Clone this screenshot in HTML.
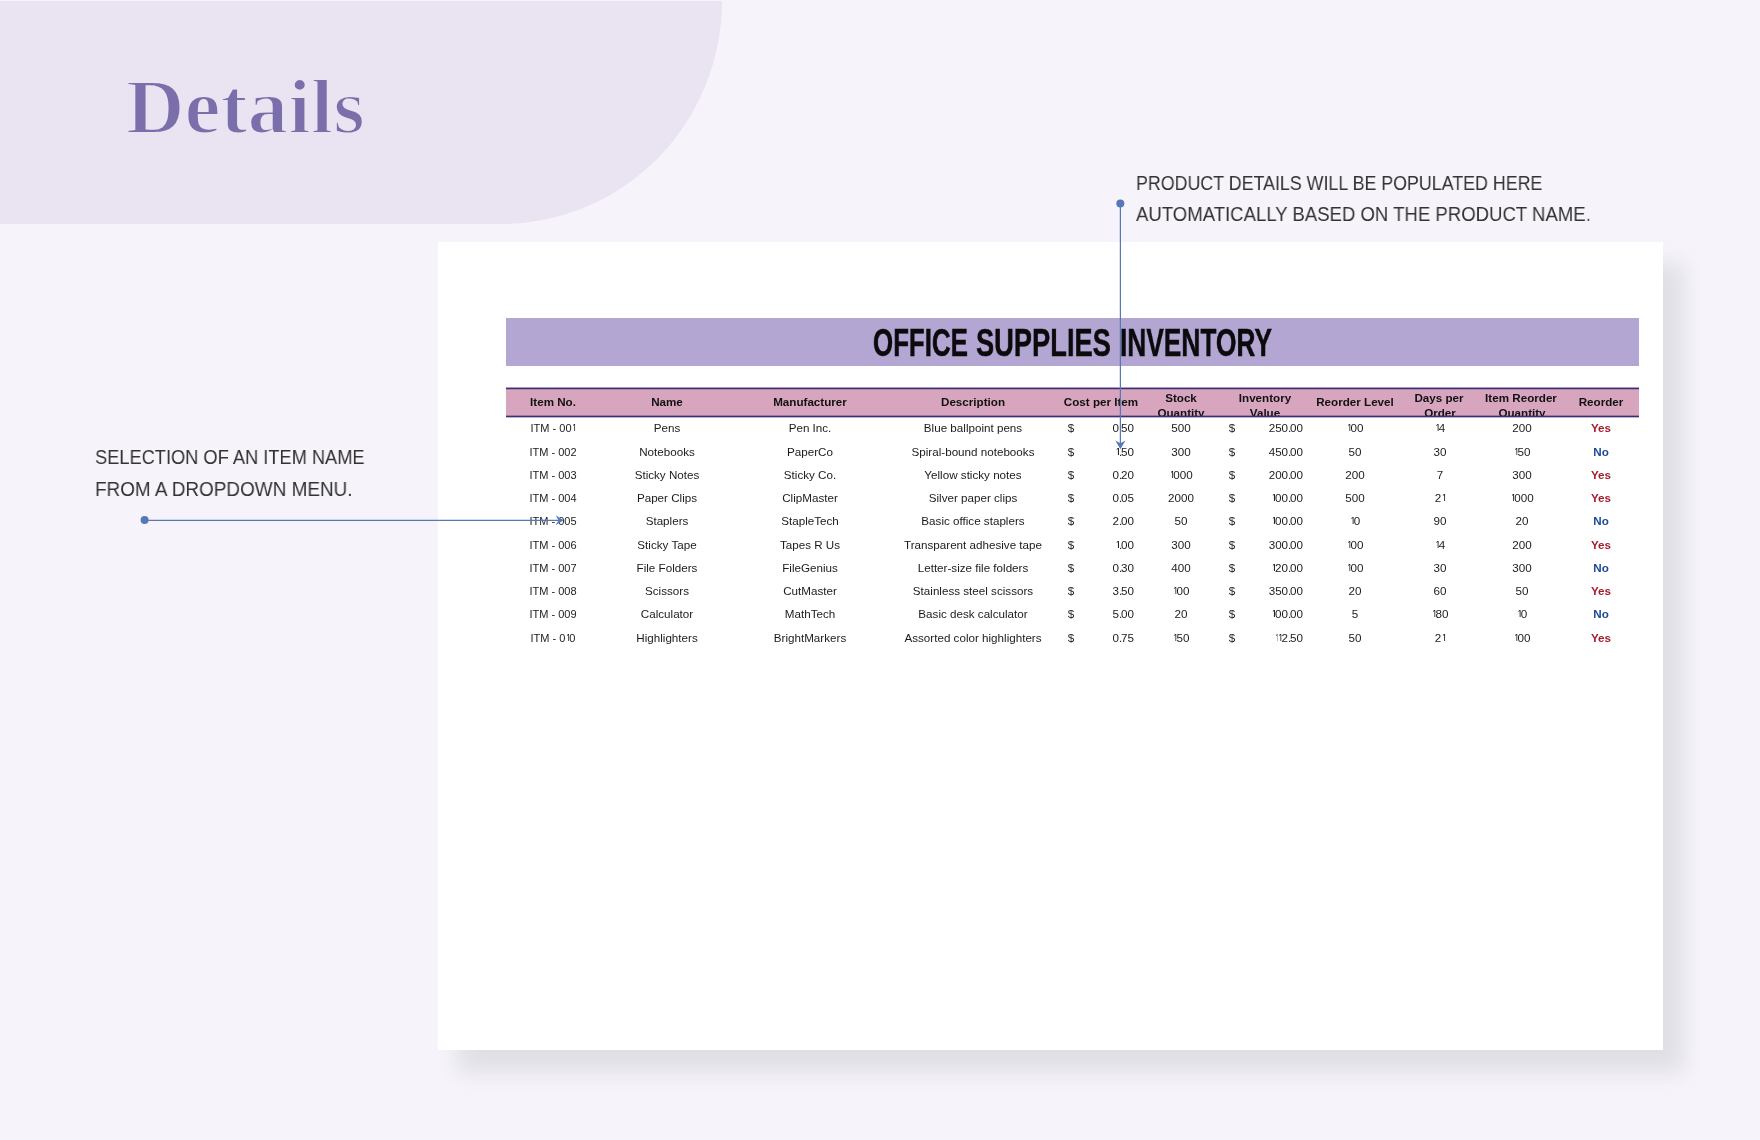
<!DOCTYPE html>
<html><head><meta charset="utf-8"><style>
html,body{margin:0;padding:0}
body{width:1760px;height:1140px;position:relative;overflow:hidden;background:#f6f4fa;font-family:"Liberation Sans",sans-serif}
.abs{position:absolute}
#blob{left:0;top:1px;width:722px;height:223px;background:#eae3f1;border-bottom-right-radius:222px 224px}
#title{left:126.3px;top:0;font-family:"Liberation Serif",serif;font-weight:bold;color:#7a6fab;white-space:nowrap}
.call{position:absolute;will-change:transform;font-size:21px;color:#333333;white-space:nowrap;transform-origin:0 0}
#card{left:438px;top:242px;width:1225px;height:808px;background:#fff;box-shadow:20px 22px 20px rgba(40,40,60,0.10)}
#band{left:506px;top:318px;width:1133px;height:48px;background:#b3a6d2}
#hdr{left:506px;top:388px;width:1133px;height:29px;background:#d8a5bf}
.inv{position:absolute;top:322.9px;font-size:39.5px;line-height:39.5px;font-weight:bold;color:#0b0b0d;white-space:nowrap;transform-origin:0 0;will-change:transform;-webkit-text-stroke:0.5px #0b0b0d}
.t{position:absolute;will-change:transform;height:0;line-height:0;text-align:center;white-space:nowrap;transform-origin:50% 0}
.t.r{text-align:right}
.dot{letter-spacing:-0.11em}
.one{letter-spacing:-0.21em;clip-path:inset(0 0 0.28em 0.14em)}
#hclip{position:absolute;left:0;top:0;width:1760px;height:416px;overflow:hidden}
svg{position:absolute;left:0;top:0}
</style></head><body>
<div id="blob" class="abs"></div>
<div id="title" class="abs" style="font-size:77.4px;line-height:77.4px;top:68.55px;transform-origin:0 0;transform:scaleX(1.048);-webkit-text-stroke:2px #eae3f1">Details</div>
<div class="call" style="left:1136px;top:166.6px;line-height:32px;transform:scaleX(0.8486)">PRODUCT DETAILS WILL BE POPULATED HERE</div>
<div class="call" style="left:1136px;top:198.3px;line-height:32px;transform:scaleX(0.8838)">AUTOMATICALLY BASED ON THE PRODUCT NAME.</div>
<div class="call" style="left:95px;top:440.9px;line-height:32px;transform:scaleX(0.8686)">SELECTION OF AN ITEM NAME</div>
<div class="call" style="left:95px;top:472.8px;line-height:32px;transform:scaleX(0.901)">FROM A DROPDOWN MENU.</div>
<div id="card" class="abs"></div>
<div id="band" class="abs"></div>
<div class="inv" style="left:873.4px;transform:scaleX(0.655)">OFFICE</div>
<div class="inv" style="left:975.8px;transform:scaleX(0.69)">SUPPLIES</div>
<div class="inv" style="left:1119.8px;transform:scaleX(0.6655)">INVENTORY</div>
<div id="hdr" class="abs"></div>
<div id="hclip">
<div class="t " style="left:403.00px;top:402.83px;width:300px;font-size:10.3px;font-weight:bold;color:#111;transform:scaleX(1.13)">Item No.</div>
<div class="t " style="left:517.00px;top:402.83px;width:300px;font-size:10.3px;font-weight:bold;color:#111;transform:scaleX(1.13)">Name</div>
<div class="t " style="left:660.00px;top:402.83px;width:300px;font-size:10.3px;font-weight:bold;color:#111;transform:scaleX(1.13)">Manufacturer</div>
<div class="t " style="left:823.00px;top:402.83px;width:300px;font-size:10.3px;font-weight:bold;color:#111;transform:scaleX(1.13)">Description</div>
<div class="t " style="left:950.50px;top:402.83px;width:300px;font-size:10.3px;font-weight:bold;color:#111;transform:scaleX(1.13)">Cost per Item</div>
<div class="t " style="left:1204.50px;top:402.83px;width:300px;font-size:10.3px;font-weight:bold;color:#111;transform:scaleX(1.13)">Reorder Level</div>
<div class="t " style="left:1451.00px;top:402.83px;width:300px;font-size:10.3px;font-weight:bold;color:#111;transform:scaleX(1.13)">Reorder</div>
<div class="t " style="left:1030.50px;top:399.43px;width:300px;font-size:10.3px;font-weight:bold;color:#111;transform:scaleX(1.13)">Stock</div>
<div class="t " style="left:1031.00px;top:414.43px;width:300px;font-size:10.3px;font-weight:bold;color:#111;transform:scaleX(1.13)">Quantity</div>
<div class="t " style="left:1114.50px;top:399.43px;width:300px;font-size:10.3px;font-weight:bold;color:#111;transform:scaleX(1.13)">Inventory</div>
<div class="t " style="left:1115.00px;top:414.43px;width:300px;font-size:10.3px;font-weight:bold;color:#111;transform:scaleX(1.13)">Value</div>
<div class="t " style="left:1289.00px;top:399.43px;width:300px;font-size:10.3px;font-weight:bold;color:#111;transform:scaleX(1.13)">Days per</div>
<div class="t " style="left:1289.50px;top:414.43px;width:300px;font-size:10.3px;font-weight:bold;color:#111;transform:scaleX(1.13)">Order</div>
<div class="t " style="left:1371.00px;top:399.43px;width:300px;font-size:10.3px;font-weight:bold;color:#111;transform:scaleX(1.13)">Item Reorder</div>
<div class="t " style="left:1371.50px;top:414.43px;width:300px;font-size:10.3px;font-weight:bold;color:#111;transform:scaleX(1.13)">Quantity</div>
</div>
<div class="t " style="left:402.50px;top:429.23px;width:300px;font-size:10.3px;font-weight:normal;color:#1b1b1b;transform:scaleX(1.07)">ITM - 00<span class="one">1</span></div>
<div class="t " style="left:517.00px;top:429.23px;width:300px;font-size:10.3px;font-weight:normal;color:#1b1b1b;transform:scaleX(1.13)">Pens</div>
<div class="t " style="left:660.00px;top:429.23px;width:300px;font-size:10.3px;font-weight:normal;color:#1b1b1b;transform:scaleX(1.13)">Pen Inc.</div>
<div class="t " style="left:823.00px;top:429.23px;width:300px;font-size:10.3px;font-weight:normal;color:#1b1b1b;transform:scaleX(1.13)">Blue ballpoint pens</div>
<div class="t " style="left:921.00px;top:429.23px;width:300px;font-size:10.3px;font-weight:normal;color:#1b1b1b;transform:scaleX(1.13)">$</div>
<div class="t r" style="left:934.20px;top:429.23px;width:200px;font-size:10.3px;color:#1b1b1b;transform-origin:100% 0;transform:scaleX(1.13)">0<span class="dot">.</span>50</div>
<div class="t " style="left:1031.00px;top:429.23px;width:300px;font-size:10.3px;font-weight:normal;color:#1b1b1b;transform:scaleX(1.13)">500</div>
<div class="t " style="left:1082.00px;top:429.23px;width:300px;font-size:10.3px;font-weight:normal;color:#1b1b1b;transform:scaleX(1.13)">$</div>
<div class="t r" style="left:1102.50px;top:429.23px;width:200px;font-size:10.3px;color:#1b1b1b;transform-origin:100% 0;transform:scaleX(1.13)">250<span class="dot">.</span>00</div>
<div class="t " style="left:1204.50px;top:429.23px;width:300px;font-size:10.3px;font-weight:normal;color:#1b1b1b;transform:scaleX(1.13)"><span class="one">1</span>00</div>
<div class="t " style="left:1289.50px;top:429.23px;width:300px;font-size:10.3px;font-weight:normal;color:#1b1b1b;transform:scaleX(1.13)"><span class="one">1</span>4</div>
<div class="t " style="left:1371.50px;top:429.23px;width:300px;font-size:10.3px;font-weight:normal;color:#1b1b1b;transform:scaleX(1.13)">200</div>
<div class="t " style="left:1451.00px;top:429.23px;width:300px;font-size:10.3px;font-weight:bold;color:#a51d2d;transform:scaleX(1.13)">Yes</div>
<div class="t " style="left:402.50px;top:452.50px;width:300px;font-size:10.3px;font-weight:normal;color:#1b1b1b;transform:scaleX(1.07)">ITM - 002</div>
<div class="t " style="left:517.00px;top:452.50px;width:300px;font-size:10.3px;font-weight:normal;color:#1b1b1b;transform:scaleX(1.13)">Notebooks</div>
<div class="t " style="left:660.00px;top:452.50px;width:300px;font-size:10.3px;font-weight:normal;color:#1b1b1b;transform:scaleX(1.13)">PaperCo</div>
<div class="t " style="left:823.00px;top:452.50px;width:300px;font-size:10.3px;font-weight:normal;color:#1b1b1b;transform:scaleX(1.13)">Spiral-bound notebooks</div>
<div class="t " style="left:921.00px;top:452.50px;width:300px;font-size:10.3px;font-weight:normal;color:#1b1b1b;transform:scaleX(1.13)">$</div>
<div class="t r" style="left:934.20px;top:452.50px;width:200px;font-size:10.3px;color:#1b1b1b;transform-origin:100% 0;transform:scaleX(1.13)"><span class="one">1</span><span class="dot">.</span>50</div>
<div class="t " style="left:1031.00px;top:452.50px;width:300px;font-size:10.3px;font-weight:normal;color:#1b1b1b;transform:scaleX(1.13)">300</div>
<div class="t " style="left:1082.00px;top:452.50px;width:300px;font-size:10.3px;font-weight:normal;color:#1b1b1b;transform:scaleX(1.13)">$</div>
<div class="t r" style="left:1102.50px;top:452.50px;width:200px;font-size:10.3px;color:#1b1b1b;transform-origin:100% 0;transform:scaleX(1.13)">450<span class="dot">.</span>00</div>
<div class="t " style="left:1204.50px;top:452.50px;width:300px;font-size:10.3px;font-weight:normal;color:#1b1b1b;transform:scaleX(1.13)">50</div>
<div class="t " style="left:1289.50px;top:452.50px;width:300px;font-size:10.3px;font-weight:normal;color:#1b1b1b;transform:scaleX(1.13)">30</div>
<div class="t " style="left:1371.50px;top:452.50px;width:300px;font-size:10.3px;font-weight:normal;color:#1b1b1b;transform:scaleX(1.13)"><span class="one">1</span>50</div>
<div class="t " style="left:1451.00px;top:452.50px;width:300px;font-size:10.3px;font-weight:bold;color:#1d4a93;transform:scaleX(1.13)">No</div>
<div class="t " style="left:402.50px;top:475.77px;width:300px;font-size:10.3px;font-weight:normal;color:#1b1b1b;transform:scaleX(1.07)">ITM - 003</div>
<div class="t " style="left:517.00px;top:475.77px;width:300px;font-size:10.3px;font-weight:normal;color:#1b1b1b;transform:scaleX(1.13)">Sticky Notes</div>
<div class="t " style="left:660.00px;top:475.77px;width:300px;font-size:10.3px;font-weight:normal;color:#1b1b1b;transform:scaleX(1.13)">Sticky Co.</div>
<div class="t " style="left:823.00px;top:475.77px;width:300px;font-size:10.3px;font-weight:normal;color:#1b1b1b;transform:scaleX(1.13)">Yellow sticky notes</div>
<div class="t " style="left:921.00px;top:475.77px;width:300px;font-size:10.3px;font-weight:normal;color:#1b1b1b;transform:scaleX(1.13)">$</div>
<div class="t r" style="left:934.20px;top:475.77px;width:200px;font-size:10.3px;color:#1b1b1b;transform-origin:100% 0;transform:scaleX(1.13)">0<span class="dot">.</span>20</div>
<div class="t " style="left:1031.00px;top:475.77px;width:300px;font-size:10.3px;font-weight:normal;color:#1b1b1b;transform:scaleX(1.13)"><span class="one">1</span>000</div>
<div class="t " style="left:1082.00px;top:475.77px;width:300px;font-size:10.3px;font-weight:normal;color:#1b1b1b;transform:scaleX(1.13)">$</div>
<div class="t r" style="left:1102.50px;top:475.77px;width:200px;font-size:10.3px;color:#1b1b1b;transform-origin:100% 0;transform:scaleX(1.13)">200<span class="dot">.</span>00</div>
<div class="t " style="left:1204.50px;top:475.77px;width:300px;font-size:10.3px;font-weight:normal;color:#1b1b1b;transform:scaleX(1.13)">200</div>
<div class="t " style="left:1289.50px;top:475.77px;width:300px;font-size:10.3px;font-weight:normal;color:#1b1b1b;transform:scaleX(1.13)">7</div>
<div class="t " style="left:1371.50px;top:475.77px;width:300px;font-size:10.3px;font-weight:normal;color:#1b1b1b;transform:scaleX(1.13)">300</div>
<div class="t " style="left:1451.00px;top:475.77px;width:300px;font-size:10.3px;font-weight:bold;color:#a51d2d;transform:scaleX(1.13)">Yes</div>
<div class="t " style="left:402.50px;top:499.04px;width:300px;font-size:10.3px;font-weight:normal;color:#1b1b1b;transform:scaleX(1.07)">ITM - 004</div>
<div class="t " style="left:517.00px;top:499.04px;width:300px;font-size:10.3px;font-weight:normal;color:#1b1b1b;transform:scaleX(1.13)">Paper Clips</div>
<div class="t " style="left:660.00px;top:499.04px;width:300px;font-size:10.3px;font-weight:normal;color:#1b1b1b;transform:scaleX(1.13)">ClipMaster</div>
<div class="t " style="left:823.00px;top:499.04px;width:300px;font-size:10.3px;font-weight:normal;color:#1b1b1b;transform:scaleX(1.13)">Silver paper clips</div>
<div class="t " style="left:921.00px;top:499.04px;width:300px;font-size:10.3px;font-weight:normal;color:#1b1b1b;transform:scaleX(1.13)">$</div>
<div class="t r" style="left:934.20px;top:499.04px;width:200px;font-size:10.3px;color:#1b1b1b;transform-origin:100% 0;transform:scaleX(1.13)">0<span class="dot">.</span>05</div>
<div class="t " style="left:1031.00px;top:499.04px;width:300px;font-size:10.3px;font-weight:normal;color:#1b1b1b;transform:scaleX(1.13)">2000</div>
<div class="t " style="left:1082.00px;top:499.04px;width:300px;font-size:10.3px;font-weight:normal;color:#1b1b1b;transform:scaleX(1.13)">$</div>
<div class="t r" style="left:1102.50px;top:499.04px;width:200px;font-size:10.3px;color:#1b1b1b;transform-origin:100% 0;transform:scaleX(1.13)"><span class="one">1</span>00<span class="dot">.</span>00</div>
<div class="t " style="left:1204.50px;top:499.04px;width:300px;font-size:10.3px;font-weight:normal;color:#1b1b1b;transform:scaleX(1.13)">500</div>
<div class="t " style="left:1289.50px;top:499.04px;width:300px;font-size:10.3px;font-weight:normal;color:#1b1b1b;transform:scaleX(1.13)">2<span class="one">1</span></div>
<div class="t " style="left:1371.50px;top:499.04px;width:300px;font-size:10.3px;font-weight:normal;color:#1b1b1b;transform:scaleX(1.13)"><span class="one">1</span>000</div>
<div class="t " style="left:1451.00px;top:499.04px;width:300px;font-size:10.3px;font-weight:bold;color:#a51d2d;transform:scaleX(1.13)">Yes</div>
<div class="t " style="left:402.50px;top:522.31px;width:300px;font-size:10.3px;font-weight:normal;color:#1b1b1b;transform:scaleX(1.07)">ITM - 005</div>
<div class="t " style="left:517.00px;top:522.31px;width:300px;font-size:10.3px;font-weight:normal;color:#1b1b1b;transform:scaleX(1.13)">Staplers</div>
<div class="t " style="left:660.00px;top:522.31px;width:300px;font-size:10.3px;font-weight:normal;color:#1b1b1b;transform:scaleX(1.13)">StapleTech</div>
<div class="t " style="left:823.00px;top:522.31px;width:300px;font-size:10.3px;font-weight:normal;color:#1b1b1b;transform:scaleX(1.13)">Basic office staplers</div>
<div class="t " style="left:921.00px;top:522.31px;width:300px;font-size:10.3px;font-weight:normal;color:#1b1b1b;transform:scaleX(1.13)">$</div>
<div class="t r" style="left:934.20px;top:522.31px;width:200px;font-size:10.3px;color:#1b1b1b;transform-origin:100% 0;transform:scaleX(1.13)">2<span class="dot">.</span>00</div>
<div class="t " style="left:1031.00px;top:522.31px;width:300px;font-size:10.3px;font-weight:normal;color:#1b1b1b;transform:scaleX(1.13)">50</div>
<div class="t " style="left:1082.00px;top:522.31px;width:300px;font-size:10.3px;font-weight:normal;color:#1b1b1b;transform:scaleX(1.13)">$</div>
<div class="t r" style="left:1102.50px;top:522.31px;width:200px;font-size:10.3px;color:#1b1b1b;transform-origin:100% 0;transform:scaleX(1.13)"><span class="one">1</span>00<span class="dot">.</span>00</div>
<div class="t " style="left:1204.50px;top:522.31px;width:300px;font-size:10.3px;font-weight:normal;color:#1b1b1b;transform:scaleX(1.13)"><span class="one">1</span>0</div>
<div class="t " style="left:1289.50px;top:522.31px;width:300px;font-size:10.3px;font-weight:normal;color:#1b1b1b;transform:scaleX(1.13)">90</div>
<div class="t " style="left:1371.50px;top:522.31px;width:300px;font-size:10.3px;font-weight:normal;color:#1b1b1b;transform:scaleX(1.13)">20</div>
<div class="t " style="left:1451.00px;top:522.31px;width:300px;font-size:10.3px;font-weight:bold;color:#1d4a93;transform:scaleX(1.13)">No</div>
<div class="t " style="left:402.50px;top:545.58px;width:300px;font-size:10.3px;font-weight:normal;color:#1b1b1b;transform:scaleX(1.07)">ITM - 006</div>
<div class="t " style="left:517.00px;top:545.58px;width:300px;font-size:10.3px;font-weight:normal;color:#1b1b1b;transform:scaleX(1.13)">Sticky Tape</div>
<div class="t " style="left:660.00px;top:545.58px;width:300px;font-size:10.3px;font-weight:normal;color:#1b1b1b;transform:scaleX(1.13)">Tapes R Us</div>
<div class="t " style="left:823.00px;top:545.58px;width:300px;font-size:10.3px;font-weight:normal;color:#1b1b1b;transform:scaleX(1.13)">Transparent adhesive tape</div>
<div class="t " style="left:921.00px;top:545.58px;width:300px;font-size:10.3px;font-weight:normal;color:#1b1b1b;transform:scaleX(1.13)">$</div>
<div class="t r" style="left:934.20px;top:545.58px;width:200px;font-size:10.3px;color:#1b1b1b;transform-origin:100% 0;transform:scaleX(1.13)"><span class="one">1</span><span class="dot">.</span>00</div>
<div class="t " style="left:1031.00px;top:545.58px;width:300px;font-size:10.3px;font-weight:normal;color:#1b1b1b;transform:scaleX(1.13)">300</div>
<div class="t " style="left:1082.00px;top:545.58px;width:300px;font-size:10.3px;font-weight:normal;color:#1b1b1b;transform:scaleX(1.13)">$</div>
<div class="t r" style="left:1102.50px;top:545.58px;width:200px;font-size:10.3px;color:#1b1b1b;transform-origin:100% 0;transform:scaleX(1.13)">300<span class="dot">.</span>00</div>
<div class="t " style="left:1204.50px;top:545.58px;width:300px;font-size:10.3px;font-weight:normal;color:#1b1b1b;transform:scaleX(1.13)"><span class="one">1</span>00</div>
<div class="t " style="left:1289.50px;top:545.58px;width:300px;font-size:10.3px;font-weight:normal;color:#1b1b1b;transform:scaleX(1.13)"><span class="one">1</span>4</div>
<div class="t " style="left:1371.50px;top:545.58px;width:300px;font-size:10.3px;font-weight:normal;color:#1b1b1b;transform:scaleX(1.13)">200</div>
<div class="t " style="left:1451.00px;top:545.58px;width:300px;font-size:10.3px;font-weight:bold;color:#a51d2d;transform:scaleX(1.13)">Yes</div>
<div class="t " style="left:402.50px;top:568.85px;width:300px;font-size:10.3px;font-weight:normal;color:#1b1b1b;transform:scaleX(1.07)">ITM - 007</div>
<div class="t " style="left:517.00px;top:568.85px;width:300px;font-size:10.3px;font-weight:normal;color:#1b1b1b;transform:scaleX(1.13)">File Folders</div>
<div class="t " style="left:660.00px;top:568.85px;width:300px;font-size:10.3px;font-weight:normal;color:#1b1b1b;transform:scaleX(1.13)">FileGenius</div>
<div class="t " style="left:823.00px;top:568.85px;width:300px;font-size:10.3px;font-weight:normal;color:#1b1b1b;transform:scaleX(1.13)">Letter-size file folders</div>
<div class="t " style="left:921.00px;top:568.85px;width:300px;font-size:10.3px;font-weight:normal;color:#1b1b1b;transform:scaleX(1.13)">$</div>
<div class="t r" style="left:934.20px;top:568.85px;width:200px;font-size:10.3px;color:#1b1b1b;transform-origin:100% 0;transform:scaleX(1.13)">0<span class="dot">.</span>30</div>
<div class="t " style="left:1031.00px;top:568.85px;width:300px;font-size:10.3px;font-weight:normal;color:#1b1b1b;transform:scaleX(1.13)">400</div>
<div class="t " style="left:1082.00px;top:568.85px;width:300px;font-size:10.3px;font-weight:normal;color:#1b1b1b;transform:scaleX(1.13)">$</div>
<div class="t r" style="left:1102.50px;top:568.85px;width:200px;font-size:10.3px;color:#1b1b1b;transform-origin:100% 0;transform:scaleX(1.13)"><span class="one">1</span>20<span class="dot">.</span>00</div>
<div class="t " style="left:1204.50px;top:568.85px;width:300px;font-size:10.3px;font-weight:normal;color:#1b1b1b;transform:scaleX(1.13)"><span class="one">1</span>00</div>
<div class="t " style="left:1289.50px;top:568.85px;width:300px;font-size:10.3px;font-weight:normal;color:#1b1b1b;transform:scaleX(1.13)">30</div>
<div class="t " style="left:1371.50px;top:568.85px;width:300px;font-size:10.3px;font-weight:normal;color:#1b1b1b;transform:scaleX(1.13)">300</div>
<div class="t " style="left:1451.00px;top:568.85px;width:300px;font-size:10.3px;font-weight:bold;color:#1d4a93;transform:scaleX(1.13)">No</div>
<div class="t " style="left:402.50px;top:592.12px;width:300px;font-size:10.3px;font-weight:normal;color:#1b1b1b;transform:scaleX(1.07)">ITM - 008</div>
<div class="t " style="left:517.00px;top:592.12px;width:300px;font-size:10.3px;font-weight:normal;color:#1b1b1b;transform:scaleX(1.13)">Scissors</div>
<div class="t " style="left:660.00px;top:592.12px;width:300px;font-size:10.3px;font-weight:normal;color:#1b1b1b;transform:scaleX(1.13)">CutMaster</div>
<div class="t " style="left:823.00px;top:592.12px;width:300px;font-size:10.3px;font-weight:normal;color:#1b1b1b;transform:scaleX(1.13)">Stainless steel scissors</div>
<div class="t " style="left:921.00px;top:592.12px;width:300px;font-size:10.3px;font-weight:normal;color:#1b1b1b;transform:scaleX(1.13)">$</div>
<div class="t r" style="left:934.20px;top:592.12px;width:200px;font-size:10.3px;color:#1b1b1b;transform-origin:100% 0;transform:scaleX(1.13)">3<span class="dot">.</span>50</div>
<div class="t " style="left:1031.00px;top:592.12px;width:300px;font-size:10.3px;font-weight:normal;color:#1b1b1b;transform:scaleX(1.13)"><span class="one">1</span>00</div>
<div class="t " style="left:1082.00px;top:592.12px;width:300px;font-size:10.3px;font-weight:normal;color:#1b1b1b;transform:scaleX(1.13)">$</div>
<div class="t r" style="left:1102.50px;top:592.12px;width:200px;font-size:10.3px;color:#1b1b1b;transform-origin:100% 0;transform:scaleX(1.13)">350<span class="dot">.</span>00</div>
<div class="t " style="left:1204.50px;top:592.12px;width:300px;font-size:10.3px;font-weight:normal;color:#1b1b1b;transform:scaleX(1.13)">20</div>
<div class="t " style="left:1289.50px;top:592.12px;width:300px;font-size:10.3px;font-weight:normal;color:#1b1b1b;transform:scaleX(1.13)">60</div>
<div class="t " style="left:1371.50px;top:592.12px;width:300px;font-size:10.3px;font-weight:normal;color:#1b1b1b;transform:scaleX(1.13)">50</div>
<div class="t " style="left:1451.00px;top:592.12px;width:300px;font-size:10.3px;font-weight:bold;color:#a51d2d;transform:scaleX(1.13)">Yes</div>
<div class="t " style="left:402.50px;top:615.39px;width:300px;font-size:10.3px;font-weight:normal;color:#1b1b1b;transform:scaleX(1.07)">ITM - 009</div>
<div class="t " style="left:517.00px;top:615.39px;width:300px;font-size:10.3px;font-weight:normal;color:#1b1b1b;transform:scaleX(1.13)">Calculator</div>
<div class="t " style="left:660.00px;top:615.39px;width:300px;font-size:10.3px;font-weight:normal;color:#1b1b1b;transform:scaleX(1.13)">MathTech</div>
<div class="t " style="left:823.00px;top:615.39px;width:300px;font-size:10.3px;font-weight:normal;color:#1b1b1b;transform:scaleX(1.13)">Basic desk calculator</div>
<div class="t " style="left:921.00px;top:615.39px;width:300px;font-size:10.3px;font-weight:normal;color:#1b1b1b;transform:scaleX(1.13)">$</div>
<div class="t r" style="left:934.20px;top:615.39px;width:200px;font-size:10.3px;color:#1b1b1b;transform-origin:100% 0;transform:scaleX(1.13)">5<span class="dot">.</span>00</div>
<div class="t " style="left:1031.00px;top:615.39px;width:300px;font-size:10.3px;font-weight:normal;color:#1b1b1b;transform:scaleX(1.13)">20</div>
<div class="t " style="left:1082.00px;top:615.39px;width:300px;font-size:10.3px;font-weight:normal;color:#1b1b1b;transform:scaleX(1.13)">$</div>
<div class="t r" style="left:1102.50px;top:615.39px;width:200px;font-size:10.3px;color:#1b1b1b;transform-origin:100% 0;transform:scaleX(1.13)"><span class="one">1</span>00<span class="dot">.</span>00</div>
<div class="t " style="left:1204.50px;top:615.39px;width:300px;font-size:10.3px;font-weight:normal;color:#1b1b1b;transform:scaleX(1.13)">5</div>
<div class="t " style="left:1289.50px;top:615.39px;width:300px;font-size:10.3px;font-weight:normal;color:#1b1b1b;transform:scaleX(1.13)"><span class="one">1</span>80</div>
<div class="t " style="left:1371.50px;top:615.39px;width:300px;font-size:10.3px;font-weight:normal;color:#1b1b1b;transform:scaleX(1.13)"><span class="one">1</span>0</div>
<div class="t " style="left:1451.00px;top:615.39px;width:300px;font-size:10.3px;font-weight:bold;color:#1d4a93;transform:scaleX(1.13)">No</div>
<div class="t " style="left:402.50px;top:638.66px;width:300px;font-size:10.3px;font-weight:normal;color:#1b1b1b;transform:scaleX(1.07)">ITM - 0<span class="one">1</span>0</div>
<div class="t " style="left:517.00px;top:638.66px;width:300px;font-size:10.3px;font-weight:normal;color:#1b1b1b;transform:scaleX(1.13)">Highlighters</div>
<div class="t " style="left:660.00px;top:638.66px;width:300px;font-size:10.3px;font-weight:normal;color:#1b1b1b;transform:scaleX(1.13)">BrightMarkers</div>
<div class="t " style="left:823.00px;top:638.66px;width:300px;font-size:10.3px;font-weight:normal;color:#1b1b1b;transform:scaleX(1.13)">Assorted color highlighters</div>
<div class="t " style="left:921.00px;top:638.66px;width:300px;font-size:10.3px;font-weight:normal;color:#1b1b1b;transform:scaleX(1.13)">$</div>
<div class="t r" style="left:934.20px;top:638.66px;width:200px;font-size:10.3px;color:#1b1b1b;transform-origin:100% 0;transform:scaleX(1.13)">0<span class="dot">.</span>75</div>
<div class="t " style="left:1031.00px;top:638.66px;width:300px;font-size:10.3px;font-weight:normal;color:#1b1b1b;transform:scaleX(1.13)"><span class="one">1</span>50</div>
<div class="t " style="left:1082.00px;top:638.66px;width:300px;font-size:10.3px;font-weight:normal;color:#1b1b1b;transform:scaleX(1.13)">$</div>
<div class="t r" style="left:1102.50px;top:638.66px;width:200px;font-size:10.3px;color:#1b1b1b;transform-origin:100% 0;transform:scaleX(1.13)"><span class="one">1</span><span class="one">1</span>2<span class="dot">.</span>50</div>
<div class="t " style="left:1204.50px;top:638.66px;width:300px;font-size:10.3px;font-weight:normal;color:#1b1b1b;transform:scaleX(1.13)">50</div>
<div class="t " style="left:1289.50px;top:638.66px;width:300px;font-size:10.3px;font-weight:normal;color:#1b1b1b;transform:scaleX(1.13)">2<span class="one">1</span></div>
<div class="t " style="left:1371.50px;top:638.66px;width:300px;font-size:10.3px;font-weight:normal;color:#1b1b1b;transform:scaleX(1.13)"><span class="one">1</span>00</div>
<div class="t " style="left:1451.00px;top:638.66px;width:300px;font-size:10.3px;font-weight:bold;color:#a51d2d;transform:scaleX(1.13)">Yes</div>
<svg width="1760" height="1140" viewBox="0 0 1760 1140">
<rect x="506" y="387.55" width="1133" height="1.7" fill="#3c2d78"/>
<rect x="506" y="415.65" width="1133" height="1.7" fill="#3c2d78"/>
<g fill="#5579b6" stroke="none">
<circle cx="1120.3" cy="203.5" r="4"/>
<circle cx="144.6" cy="520.1" r="4"/>
<path d="M1120.4 449.2 L1115.4 440.6 L1120.4 443.2 L1125.4 440.6 Z"/>
<path d="M563.6 520.3 L555.6 515.3 L558.6 520.3 L555.6 525.3 Z"/>
</g>
<g stroke="#5579b6" stroke-width="1.25" fill="none">
<line x1="1120.4" y1="203.5" x2="1120.4" y2="444"/>
<line x1="144.6" y1="520.4" x2="559" y2="520.4"/>
</g>
</svg>
</body></html>
